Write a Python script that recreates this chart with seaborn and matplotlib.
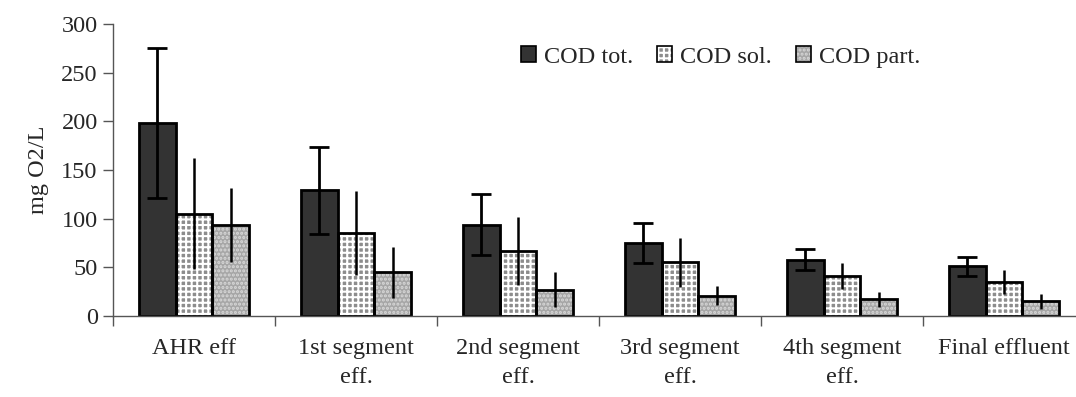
import numpy as np
import pandas as pd
import matplotlib
matplotlib.use("Agg")
import matplotlib.pyplot as plt
import matplotlib.patches as mpatches
from matplotlib.legend_handler import HandlerTuple
import seaborn as sns

# values
stages = ["AHR eff", "1st segment\neff.", "2nd segment\neff.", "3rd segment\neff.",
          "4th segment\neff.", "Final effluent"]
series = ["COD tot.", "COD sol.", "COD part."]
cod_tot = [198, 129, 94, 75, 58, 51]
cod_tot_err = [77, 45, 31, 21, 11, 10]
cod_sol = [105, 85, 67, 55, 41, 35]
cod_sol_err = [57, 43, 35, 25, 13, 12]
cod_part = [93, 45, 27, 21, 17, 15]
cod_part_err = [38, 26, 18, 10, 8, 8]

df = pd.DataFrame({
    "stage": stages * 3,
    "series": sum([[s] * len(stages) for s in series], []),
    "value": cod_tot + cod_sol + cod_part,
})
errors = [cod_tot_err, cod_sol_err, cod_part_err]

sns.set_style("white")
plt.rcParams["font.family"] = ["Liberation Serif", "DejaVu Serif"]
plt.rcParams["hatch.linewidth"] = 1.5
FS = 17.5

fig = plt.figure(figsize=(10.76, 3.97), dpi=100)
ax = fig.add_axes([113 / 1076, 1 - 316 / 397, 972 / 1076, 292 / 397])

sns.barplot(data=df, x="stage", y="value", hue="series", order=stages,
            hue_order=series, width=0.68, gap=0, errorbar=None, ax=ax,
            legend=False)

# fill styles: (face, hatch, hatch colour)
styles = [("#333333", None, "#333333"),
          ("#8c8c8c", "+++", "white"),
          ("#a6a6a6", "....", "#d8d8d8")]
handles = []
bar_containers = list(ax.containers)
for i, cont in enumerate(bar_containers):
    face, hatch, hcol = styles[i]
    for p in cont.patches:
        p.set_facecolor(face)
        p.set_hatch(hatch)
        p.set_edgecolor(hcol)
        p.set_linewidth(0)
        outline = mpatches.Rectangle(p.get_xy(), p.get_width(), p.get_height(),
                                     fill=False, edgecolor="black", linewidth=2,
                                     zorder=p.get_zorder() + 0.1)
        ax.add_patch(outline)
    xs = [p.get_x() + p.get_width() / 2 for p in cont.patches]
    ys = [p.get_height() for p in cont.patches]
    capsize = 7 if i == 0 else 0
    ax.errorbar(xs, ys, yerr=errors[i], fmt="none", ecolor="black",
                elinewidth=2 if i == 0 else 1.8, capsize=capsize, capthick=2,
                zorder=5)
    h1 = mpatches.Patch(facecolor=face, hatch=hatch, edgecolor=hcol, linewidth=0)
    h2 = mpatches.Patch(fill=False, edgecolor="black", linewidth=1.2)
    handles.append((h1, h2))

ax.set_xlim(-0.5, 5.5)
ax.set_ylim(0, 300)
ax.set_yticks(range(0, 301, 50))
ax.set_xticks(np.arange(-0.5, 6, 1))
ax.set_xticklabels([])
ax.set_xticks(range(len(stages)), minor=True)
ax.set_xticklabels(stages, minor=True)
ax.tick_params(axis="x", which="major", direction="out", length=7, width=1,
               color="#555555", bottom=True)
ax.tick_params(axis="x", which="minor", length=0, pad=16, labelsize=FS)
ax.tick_params(axis="y", direction="out", length=7, width=1, color="#555555",
               labelsize=FS, pad=4, left=True)
for lab in ax.get_xticklabels(minor=True):
    lab.set_multialignment("center")
    lab.set_linespacing(1.5)

for side in ["top", "right"]:
    ax.spines[side].set_visible(False)
for side in ["left", "bottom"]:
    ax.spines[side].set_color("#555555")
    ax.spines[side].set_linewidth(1)

ax.set_xlabel("")
ax.set_ylabel("mg O2/L", fontsize=FS, labelpad=9)

ax.legend(handles, series, loc="center left",
          bbox_to_anchor=(499 / 1076, 1 - 57 / 397), bbox_transform=fig.transFigure,
          ncol=3, frameon=False, fontsize=FS, handlelength=0.62,
          handleheight=0.62, handletextpad=0.32, columnspacing=1.0,
          handler_map={tuple: HandlerTuple(ndivide=1, pad=0)})

fig.savefig("out.png", dpi=100)
